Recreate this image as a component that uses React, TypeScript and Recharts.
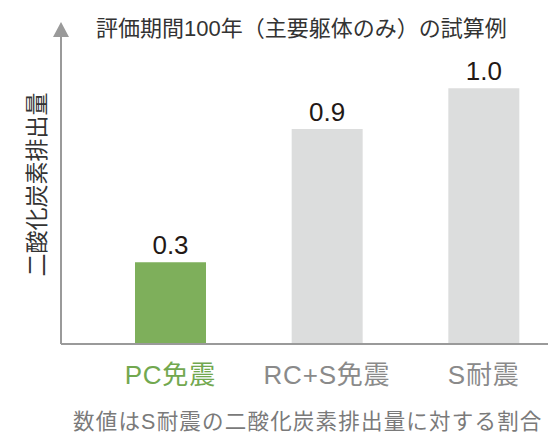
import { BarChart, Bar, XAxis, YAxis, Cell, LabelList } from "recharts";

const categories = ["PC免震", "RC+S免震", "S耐震"];
// bar heights as drawn (relative to S耐震)
const barValues = [0.32, 0.84, 1.0];
const valueLabels = ["0.3", "0.9", "1.0"];
const barColors = ["#7eaf5b", "#dcdddd", "#dcdddd"];
const tickColors = ["#72a84f", "#8a8a8a", "#8a8a8a"];

const TITLE = "評価期間100年（主要躯体のみ）の試算例";
const Y_TITLE = "二酸化炭素排出量";
const NOTE = "数値はS耐震の二酸化炭素排出量に対する割合";

const FONT = '"Liberation Sans", "Noto Sans CJK JP", sans-serif';
const AXIS = "#9a9a9a";

const data = categories.map((name, i) => ({
  name,
  value: barValues[i],
  label: valueLabels[i],
}));

function CategoryTick(props: any) {
  const { x, y, payload, index } = props;
  return (
    <text
      x={x}
      y={y + 40}
      textAnchor="middle"
      fontSize={26}
      letterSpacing={0.8}
      fontFamily={FONT}
      fill={tickColors[index] ?? "#8a8a8a"}
    >
      {payload.value}
    </text>
  );
}

// arrow head on the value axis + vertical axis title
function AxisDecor(props: any) {
  const vb = props.viewBox ?? {};
  const ax = vb.x + vb.width;
  const top = vb.y;
  const cy = vb.y + vb.height / 2 - 6;
  return (
    <g>
      <polygon
        points={`${ax - 8},${top} ${ax + 8},${top} ${ax},${top - 15}`}
        fill={AXIS}
      />
      <text
        x={37}
        y={cy}
        transform={`rotate(-90, 37, ${cy})`}
        textAnchor="middle"
        dominantBaseline="central"
        fontSize={23}
        fontFamily={FONT}
        fill="#333"
      >
        {Y_TITLE}
      </text>
    </g>
  );
}

export default function App() {
  return (
    <div
      style={{
        position: "absolute",
        left: 0,
        top: 0,
        width: 548,
        height: 436,
        overflow: "hidden",
        background: "#fff",
        fontFamily: FONT,
      }}
    >
      <div
        style={{
          position: "absolute",
          left: 96,
          top: 18,
          fontSize: 22,
          lineHeight: "22px",
          color: "#333",
          whiteSpace: "nowrap",
        }}
      >
        {TITLE}
      </div>
      <BarChart
        width={562}
        height={436}
        data={data}
        margin={{ top: 37, right: 0, bottom: 52, left: 0 }}
      >
        <XAxis
          dataKey="name"
          axisLine={{ stroke: AXIS, strokeWidth: 2 }}
          tickLine={false}
          tickSize={0}
          tickMargin={0}
          height={40}
          padding={{ left: 31, right: 0 }}
          interval={0}
          tick={<CategoryTick />}
        />
        <YAxis
          width={61}
          domain={[0, 1.2]}
          allowDataOverflow
          axisLine={{ stroke: AXIS, strokeWidth: 2 }}
          tickLine={false}
          tick={false}
          label={{ content: AxisDecor }}
        />
        <Bar dataKey="value" barSize={71} isAnimationActive={false}>
          {data.map((d, i) => (
            <Cell key={d.name} fill={barColors[i]} />
          ))}
          <LabelList
            dataKey="label"
            position="top"
            offset={8}
            fontSize={26}
            fontFamily={FONT}
            fill="#231815"
          />
        </Bar>
      </BarChart>
      <div
        style={{
          position: "absolute",
          left: 73,
          top: 412,
          fontSize: 21.5,
          lineHeight: "21px",
          letterSpacing: 1.2,
          color: "#7a7a7a",
          whiteSpace: "nowrap",
        }}
      >
        {NOTE}
      </div>
    </div>
  );
}
